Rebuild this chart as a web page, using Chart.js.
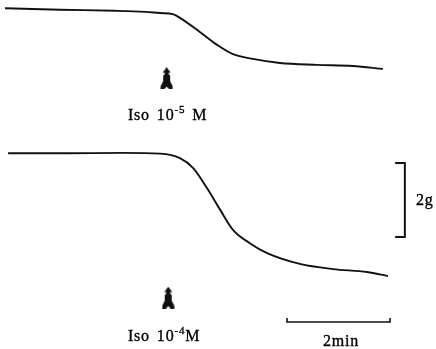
<!DOCTYPE html>
<html>
<head>
<meta charset="utf-8">
<script src="https://cdn.jsdelivr.net/npm/chart.js@4.4.1/dist/chart.umd.min.js"></script>
<style>
html,body{margin:0;padding:0;background:#fff;}
#wrap{width:436px;height:349px;}
</style>
</head>
<body>
<div id="wrap"><canvas id="c" width="436" height="349"></canvas></div>
<script>
// time in minutes, tension in grams (relative, scale bar = 2 g)
const traceTopTime = [0, 1.08, 2.16, 2.75, 3.04, 3.29, 3.43, 3.82, 4.16, 4.47, 4.86, 5.39, 6.12, 6.82, 7.41];
const traceTopForce = [9.21, 9.17, 9.14, 9.11, 9.08, 9.05, 8.95, 8.57, 8.22, 7.97, 7.84, 7.73, 7.68, 7.65, 7.57];
const traceBottomTime = [0.06, 1.2, 2.3, 3.04, 3.43, 3.69, 3.96, 4.22, 4.47, 4.80, 5.14, 5.78, 6.43, 7.10, 7.51];
const traceBottomForce = [5.29, 5.29, 5.30, 5.28, 5.16, 4.89, 4.35, 3.76, 3.22, 2.86, 2.59, 2.30, 2.16, 2.08, 1.97];
// drug additions (arrows)
const doseTime = [3.17, 3.20];
const doseLevel = [7.32, 1.39];
const doseLabels = ["10", "10"];
const doseExponents = ["-5", "-4"];
// scale bars
const forceBarTime = [7.65, 7.84, 7.84, 7.65];
const forceBarForce = [5.03, 5.03, 3.03, 3.03];
const timeBarTime = [5.53, 5.53, 7.55, 7.55];
const timeBarForce = [0.84, 0.73, 0.73, 0.84];
const forceBarLabel = "2g";
const timeBarLabel = "2min";

const pts = (xs, ys) => xs.map((x, i) => ({x: x, y: ys[i]}));

// arrow marker image
function makeArrow(){
  const cv = document.createElement('canvas');
  cv.width = 13; cv.height = 22;
  const g = cv.getContext('2d');
  g.fillStyle = '#111';
  g.beginPath();
  const p = [[6.5,0],[10.5,5.5],[8.5,5.5],[8.5,7],[10,8.5],[10,14],[12.5,19],[12.5,22],[9,22],[6.5,19.5],[4,22],[0.5,22],[0.5,19],[3,14],[3,8.5],[4.5,7],[4.5,5.5],[2.5,5.5]];
  g.moveTo(p[0][0], p[0][1]);
  for (let i = 1; i < p.length; i++) g.lineTo(p[i][0], p[i][1]);
  g.closePath();
  g.fill();
  return cv;
}
const arrowImg = makeArrow();

// annotation anchors (data units)
const labelCfg = {
  doseX: [2.41, 2.41],
  doseY: [6.19, 0.216],
  supGapM: [7, 0],
  forceLabelX: 8.06, forceLabelY: 3.89,
  timeLabelX: 6.59, timeLabelY: 0.08
};

const textPlugin = {
  id: 'texts',
  afterDatasetsDraw(chart){
    const ctx = chart.ctx, xs = chart.scales.x, ys = chart.scales.y;
    ctx.save();
    ctx.fillStyle = '#000';
    ctx.strokeStyle = '#000';
    ctx.lineWidth = 0.35;
    ctx.textBaseline = 'alphabetic';
    ctx.letterSpacing = '0.8px';
    const main = '16px "Liberation Serif"';
    const sup = '11px "Liberation Serif"';
    const put = (s, x, y) => { ctx.fillText(s, x, y); ctx.strokeText(s, x, y); };
    for (let i = 0; i < doseLabels.length; i++){
      let x = xs.getPixelForValue(labelCfg.doseX[i]);
      const y = ys.getPixelForValue(labelCfg.doseY[i]);
      ctx.font = main;
      ctx.textAlign = 'left';
      put('Iso', x, y);
      x += ctx.measureText('Iso').width + 7;
      put(doseLabels[i], x, y);
      x += ctx.measureText(doseLabels[i]).width;
      ctx.font = sup;
      put(doseExponents[i], x, y - 7);
      x += ctx.measureText(doseExponents[i]).width + labelCfg.supGapM[i];
      ctx.font = main;
      put('M', x, y);
    }
    ctx.font = main;
    ctx.textAlign = 'left';
    put(forceBarLabel, xs.getPixelForValue(labelCfg.forceLabelX), ys.getPixelForValue(labelCfg.forceLabelY));
    ctx.textAlign = 'center';
    put(timeBarLabel, xs.getPixelForValue(labelCfg.timeLabelX), ys.getPixelForValue(labelCfg.timeLabelY));
    ctx.restore();
  }
};

const lineBase = {showLine: true, pointRadius: 0, borderColor: '#111', fill: false};

new Chart(document.getElementById('c'), {
  type: 'scatter',
  data: {
    datasets: [
      Object.assign({data: pts(traceTopTime, traceTopForce), borderWidth: 1.9, tension: 0.35, cubicInterpolationMode: 'monotone'}, lineBase),
      Object.assign({data: pts(traceBottomTime, traceBottomForce), borderWidth: 1.9, tension: 0.35, cubicInterpolationMode: 'monotone'}, lineBase),
      Object.assign({data: pts(forceBarTime, forceBarForce), borderWidth: 2, tension: 0}, lineBase),
      Object.assign({data: pts(timeBarTime, timeBarForce), borderWidth: 1.6, tension: 0}, lineBase),
      {data: pts(doseTime, doseLevel), showLine: false, pointStyle: arrowImg, pointRadius: 6, backgroundColor: '#111', borderWidth: 0}
    ]
  },
  options: {
    responsive: false,
    animation: false,
    events: [],
    layout: {padding: 0, autoPadding: false},
    plugins: {legend: {display: false}, tooltip: {enabled: false}},
    scales: {
      x: {type: 'linear', display: false, min: -0.098, max: 8.451},
      y: {type: 'linear', display: false, min: 0, max: 9.432}
    }
  },
  plugins: [textPlugin]
});
</script>
</body>
</html>
